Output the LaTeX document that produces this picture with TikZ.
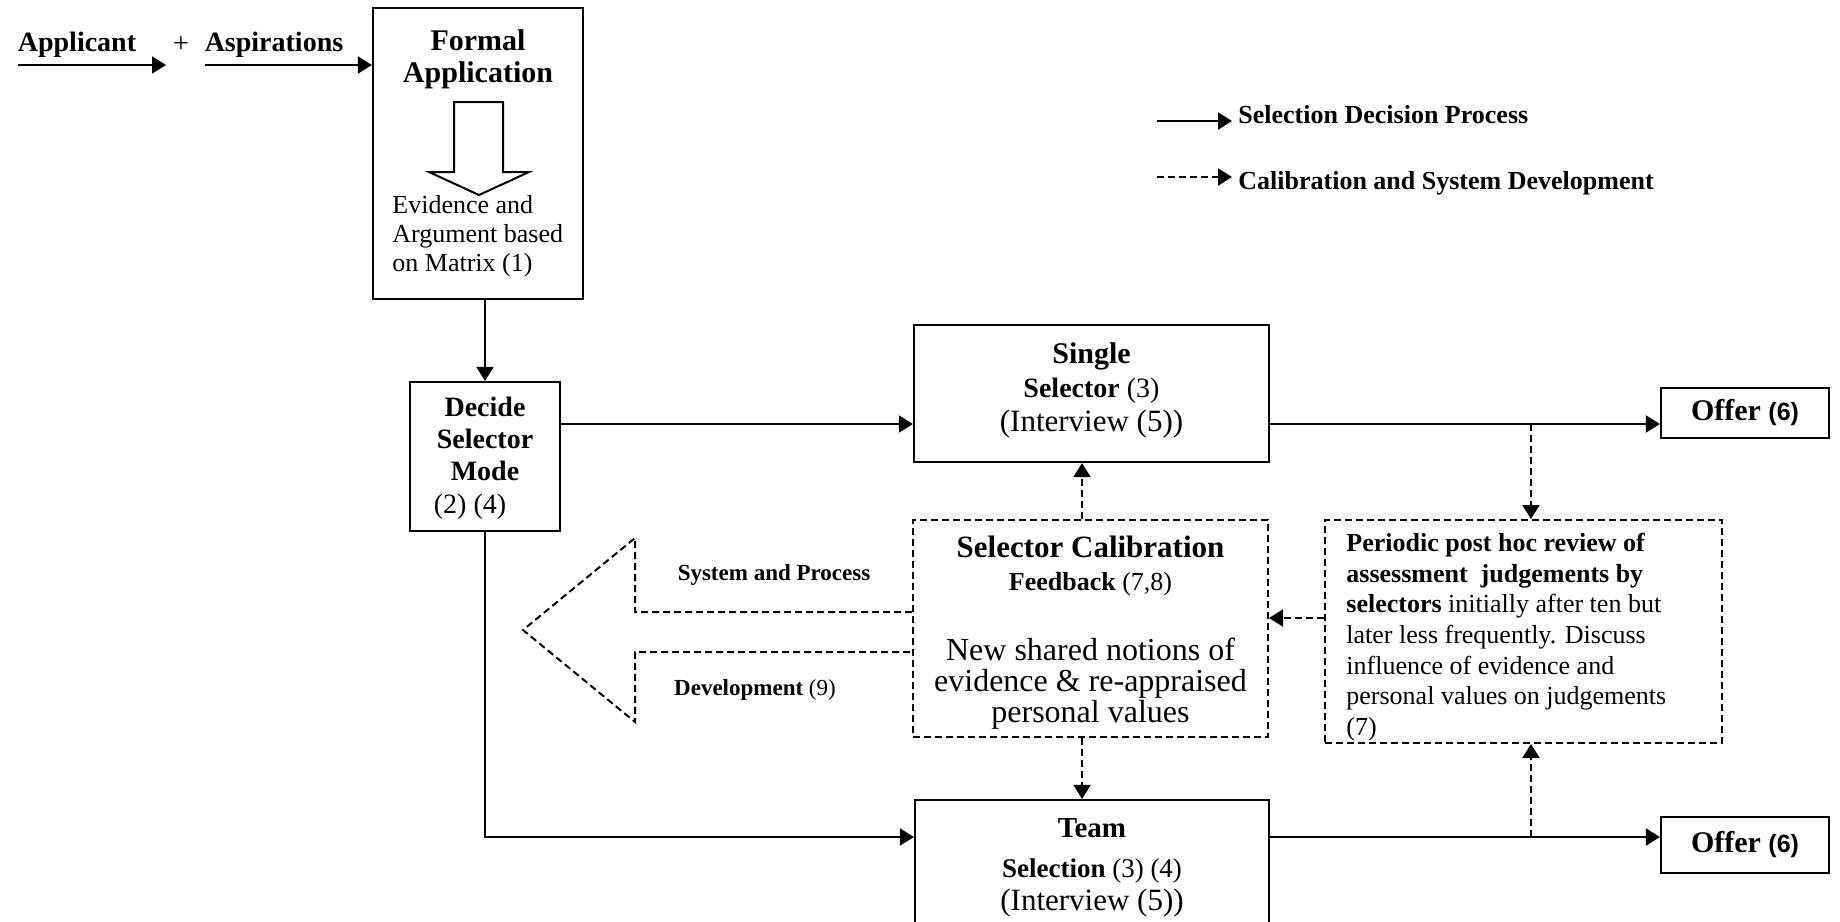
\documentclass[tikz,border=0pt]{standalone}
\usepackage{fontspec}
\setmainfont{Liberation Serif}
\newfontfamily\arialfont{Liberation Sans}
\usepackage{tikz}
\usetikzlibrary{arrows.meta,positioning,calc}
\tikzset{
  pbox/.style={rectangle,draw=black,line width=1.1pt,fill=white,inner sep=0pt},
  cbox/.style={rectangle,draw=black,line width=1pt,dash pattern=on 3.5pt off 2pt,fill=white,inner sep=0pt},
  arr/.style={-{Triangle[length=7pt,width=8.5pt]},line width=1pt},
  darr/.style={-{Triangle[length=7pt,width=8.5pt]},line width=1pt,dash pattern=on 3.5pt off 2pt},
  lbl/.style={inner sep=0pt,align=center},
}
\newcommand{\sixmark}{{\arialfont\fontsize{12.5}{14}\selectfont\bfseries(6)}}

\begin{document}
\begin{tikzpicture}[x=0.5pt,y=-0.5pt,
    bigb/.style={lbl,font=\fontsize{15}{16}\selectfont\bfseries},
    midb/.style={lbl,font=\fontsize{14}{16.2}\selectfont\bfseries},
    smallb/.style={lbl,font=\fontsize{11.5}{13}\selectfont\bfseries},
  ]
  \useasboundingbox (0,0) rectangle (1840,921);

  % boxes
  \node[pbox,minimum width=105pt,minimum height=145.5pt] (formal) at (478,153.5) {};
  \node[pbox,minimum width=75pt,minimum height=74.5pt] (decide) at (485,456.5) {};
  \node[pbox,minimum width=177.5pt,minimum height=68.5pt] (single) at (1091.5,393.5) {};
  \node[cbox,minimum width=177.5pt,minimum height=108.5pt] (calib) at (1090.5,628.5) {};
  \node[pbox,minimum width=177pt,minimum height=90pt] (team) at (1092,890) {};
  \node[cbox,minimum width=198.5pt,minimum height=111.5pt] (review) at (1523.5,631.5) {};
  \node[pbox,minimum width=84pt,minimum height=25pt] (offer1) at (1745,413) {};
  \node[pbox,minimum width=84pt,minimum height=28pt] (offer2) at (1745,845) {};

  % texts
  \node[midb] (appl) at (77,45) {Applicant};
  \node[lbl,font=\fontsize{14}{16}\selectfont] (plus) at (181,45) {+};
  \node[midb] (asp) at (274,45) {Aspirations};
  \node[bigb] (formaltxt) at (478,59) {Formal\\Application};
  \node[lbl,align=left,anchor=west,font=\fontsize{13}{14.5}\selectfont] (evid) at (392,236)
    {Evidence and\\Argument based\\on Matrix (1)};
  \node[midb] (decidetxt) at (485,458) {Decide\\Selector\\Mode\\{\mdseries (2) (4)}\hspace*{15pt}};
  \node[midb,font=\fontsize{14}{17}\selectfont\bfseries] (singletxt) at (1091.5,390)
    {{\fontsize{15}{17}\selectfont Single}\\Selector {\mdseries (3)}\\{\mdseries\fontsize{15.5}{17}\selectfont (Interview (5))}};
  \node[lbl,font=\fontsize{15.5}{16.5}\selectfont\bfseries] (calibhead) at (1090.5,566)
    {Selector Calibration\\{\fontsize{13}{15}\selectfont Feedback \mdseries (7,8)}};
  \node[lbl,font=\fontsize{16}{15.5}\selectfont] (calibbody) at (1090.5,684)
    {New shared notions of\\evidence \& re-appraised\\personal values};
  \node[lbl,font=\fontsize{14.5}{16.5}\selectfont\bfseries] (teamtxt) at (1092,868)
    {Team\\[3.5pt]{\fontsize{13.5}{15}\selectfont Selection \mdseries (3) (4)}\\{\mdseries\fontsize{15.5}{17}\selectfont (Interview (5))}};
  \node[lbl,align=left,anchor=north west,font=\fontsize{13}{15.3}\selectfont] (reviewtxt) at (1346,533)
    {\textbf{Periodic post hoc review of}\\
     \textbf{assessment\ \ judgements by}\\
     \textbf{selectors} initially after ten but\\
     later less frequently. Discuss\\
     influence of evidence and\\
     personal values on judgements\\
     (7)};
  \node[lbl,font=\fontsize{15}{16}\selectfont\bfseries] (offertxt1) at (1745,413) {Offer \sixmark};
  \node[lbl,font=\fontsize{15}{16}\selectfont\bfseries] (offertxt2) at (1745,845) {Offer \sixmark};
  \node[smallb] (syslbl) at (774,575) {System and Process};
  \node[smallb] (devlbl) at (755,690) {Development {\mdseries (9)}};
  \node[lbl,anchor=west,font=\fontsize{13}{15}\selectfont\bfseries] (leg1) at (1238,115) {Selection Decision Process};
  \node[lbl,anchor=west,font=\fontsize{13}{15}\selectfont\bfseries] (leg2) at (1238,183) {Calibration and System Development};

  % block arrows
  \draw[line width=1pt] (454,102) -- (503,102) -- (503,172) -- (529,172) -- (479,195)
    -- (429,172) -- (454,172) -- cycle;
  \draw[line width=1pt,dash pattern=on 3.5pt off 2pt] (calib.west |- 0,612) -- (635,612) -- (635,538)
    -- (523,630) -- (635,722) -- (635,652) -- (calib.west |- 0,652);

  % connectors
  \coordinate (applstart) at (18,65);
  \coordinate (applend) at (166,65);
  \coordinate (aspstart) at (205,65);
  \coordinate (row1) at (0,424);
  \coordinate (row2) at (0,837);
  \coordinate (row3) at (0,618);
  \coordinate (col1) at (1082,0);
  \coordinate (tap1) at (1531,424);
  \coordinate (tap2) at (1531,837);
  \coordinate (leg1a) at (1157,121);
  \coordinate (leg1b) at (1232,121);
  \coordinate (leg2a) at (1157,177);
  \coordinate (leg2b) at (1232,177);
  \draw[arr] (applstart) -- (applend);
  \draw[arr] (aspstart) -- (formal.west |- aspstart);
  \draw[arr] (decide.north |- formal.south) -- (decide.north);
  \draw[arr] (decide.east |- row1) -- (single.west |- row1);
  \draw[arr] (single.east |- row1) -- (offer1.west |- row1);
  \draw[arr] (decide.south) |- (team.west |- row2);
  \draw[arr] (team.east |- row2) -- (offer2.west |- row2);
  \draw[darr] (tap1) -- (tap1 |- review.north);
  \draw[darr] (tap2) -- (tap2 |- review.south);
  \draw[darr] (review.west |- row3) -- (calib.east |- row3);
  \draw[darr] (calib.north -| col1) -- (single.south -| col1);
  \draw[darr] (calib.south -| col1) -- (team.north -| col1);
  \draw[arr] (leg1a) -- (leg1b);
  \draw[darr] (leg2a) -- (leg2b);
\end{tikzpicture}
\end{document}
